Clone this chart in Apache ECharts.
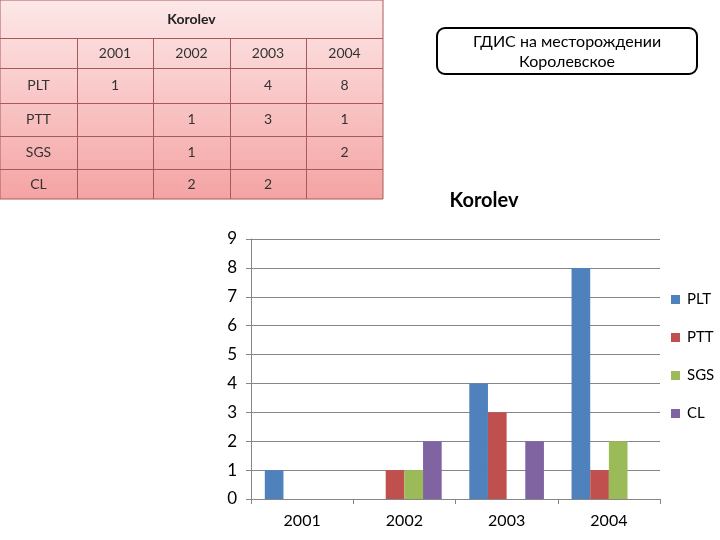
<!DOCTYPE html>
<html>
<head>
<meta charset="utf-8">
<script src="https://cdn.jsdelivr.net/npm/echarts@6/dist/echarts.min.js"></script>
<style>
  html, body { margin: 0; padding: 0; background: #fff; }
  #main { width: 720px; height: 540px; }
</style>
</head>
<body>
<div id="main"></div>
<script>
var years = ['2001', '2002', '2003', '2004'];
var names = ['PLT', 'PTT', 'SGS', 'CL'];
var plt = [1, null, 4, 8];
var ptt = [null, 1, 3, 1];
var sgs = [null, 1, null, 2];
var cl = [null, 2, 2, null];
var yTicks = [0, 1, 2, 3, 4, 5, 6, 7, 8, 9];
var colors = ['#4F81BD', '#C0504D', '#9BBB59', '#8064A2'];
var allValues = [plt, ptt, sgs, cl];

var font = 'Lato, "Open Sans", sans-serif';

// table on the left top
var colX = [0, 77, 153, 230, 306, 383];
var rowY = [0, 38, 68, 103, 136, 169, 199];
var border = '#a85a5a';
var g = [];
g.push({
  type: 'rect',
  shape: { x: 0, y: 0, width: colX[5], height: rowY[6] },
  style: {
    fill: new echarts.graphic.LinearGradient(0, 0, 0, 1, [
      { offset: 0, color: '#fde8e8' },
      { offset: 1, color: '#f5a3a3' }
    ]),
    stroke: border, lineWidth: 1
  }
});
for (var r = 1; r < rowY.length - 1; r++) {
  g.push({ type: 'line', shape: { x1: 0, y1: rowY[r] + 0.5, x2: colX[5], y2: rowY[r] + 0.5 }, style: { stroke: border, lineWidth: 1 } });
}
for (var c = 1; c < colX.length - 1; c++) {
  g.push({ type: 'line', shape: { x1: colX[c] + 0.5, y1: rowY[1], x2: colX[c] + 0.5, y2: rowY[6] }, style: { stroke: border, lineWidth: 1 } });
}
g.push({ type: 'text', x: colX[5] / 2, y: (rowY[0] + rowY[1]) / 2,
  style: { text: 'Korolev', font: 'bold 14px ' + font, fill: '#222', align: 'center', verticalAlign: 'middle' } });
years.forEach(function (yr, i) {
  g.push({ type: 'text', x: (colX[i + 1] + colX[i + 2]) / 2, y: (rowY[1] + rowY[2]) / 2,
    style: { text: yr, font: '14px ' + font, fill: '#333', align: 'center', verticalAlign: 'middle' } });
});
names.forEach(function (nm, j) {
  var cy = (rowY[j + 2] + rowY[j + 3]) / 2;
  g.push({ type: 'text', x: (colX[0] + colX[1]) / 2, y: cy,
    style: { text: nm, font: '14px ' + font, fill: '#333', align: 'center', verticalAlign: 'middle' } });
  allValues[j].forEach(function (v, i) {
    if (v == null) return;
    g.push({ type: 'text', x: (colX[i + 1] + colX[i + 2]) / 2, y: cy,
      style: { text: String(v), font: '14px ' + font, fill: '#333', align: 'center', verticalAlign: 'middle' } });
  });
});

// rounded caption box
g.push({
  type: 'rect',
  shape: { x: 437, y: 28, width: 260, height: 46, r: 8 },
  style: { fill: '#fff', stroke: '#000', lineWidth: 2 }
});
g.push({ type: 'text', x: 567, y: 42,
  style: { text: 'ГДИС на месторождении', font: '16px ' + font, fill: '#000', align: 'center', verticalAlign: 'middle' } });
g.push({ type: 'text', x: 567, y: 62,
  style: { text: 'Королевское', font: '16px ' + font, fill: '#000', align: 'center', verticalAlign: 'middle' } });

var myChart = echarts.init(document.getElementById('main'));

var option = {
  animation: false,
  title: {
    text: 'Korolev',
    left: 479, top: 186, textAlign: 'center',
    textStyle: { fontFamily: font, fontSize: 20, fontWeight: 'bold', color: '#000' }
  },
  legend: {
    data: names,
    orient: 'vertical',
    left: 666, top: 287,
    itemWidth: 9, itemHeight: 9,
    itemGap: 23,
    icon: 'rect',
    textStyle: { fontFamily: font, fontSize: 15, color: '#000', padding: [0, 0, 0, 2] }
  },
  grid: { left: 251, right: 60, top: 239, bottom: 41 },
  xAxis: {
    type: 'category',
    data: years,
    axisLine: { lineStyle: { color: '#868686' } },
    axisTick: { show: true, length: 5, lineStyle: { color: '#868686' } },
    axisLabel: { fontFamily: font, fontSize: 16, color: '#000', margin: 14 }
  },
  yAxis: {
    type: 'value',
    min: yTicks[0], max: yTicks[yTicks.length - 1], interval: 1,
    axisLine: { show: true, lineStyle: { color: '#868686' } },
    axisTick: { show: true, length: 5, lineStyle: { color: '#868686' } },
    splitLine: { lineStyle: { color: '#868686' } },
    axisLabel: { fontFamily: font, fontSize: 17, color: '#000', margin: 14 }
  },
  graphic: g,
  series: names.map(function (nm, j) {
    return {
      name: nm,
      type: 'bar',
      data: allValues[j],
      itemStyle: { color: colors[j] },
      barGap: '0%',
      barCategoryGap: '27%'
    };
  })
};

myChart.setOption(option);
</script>
</body>
</html>
